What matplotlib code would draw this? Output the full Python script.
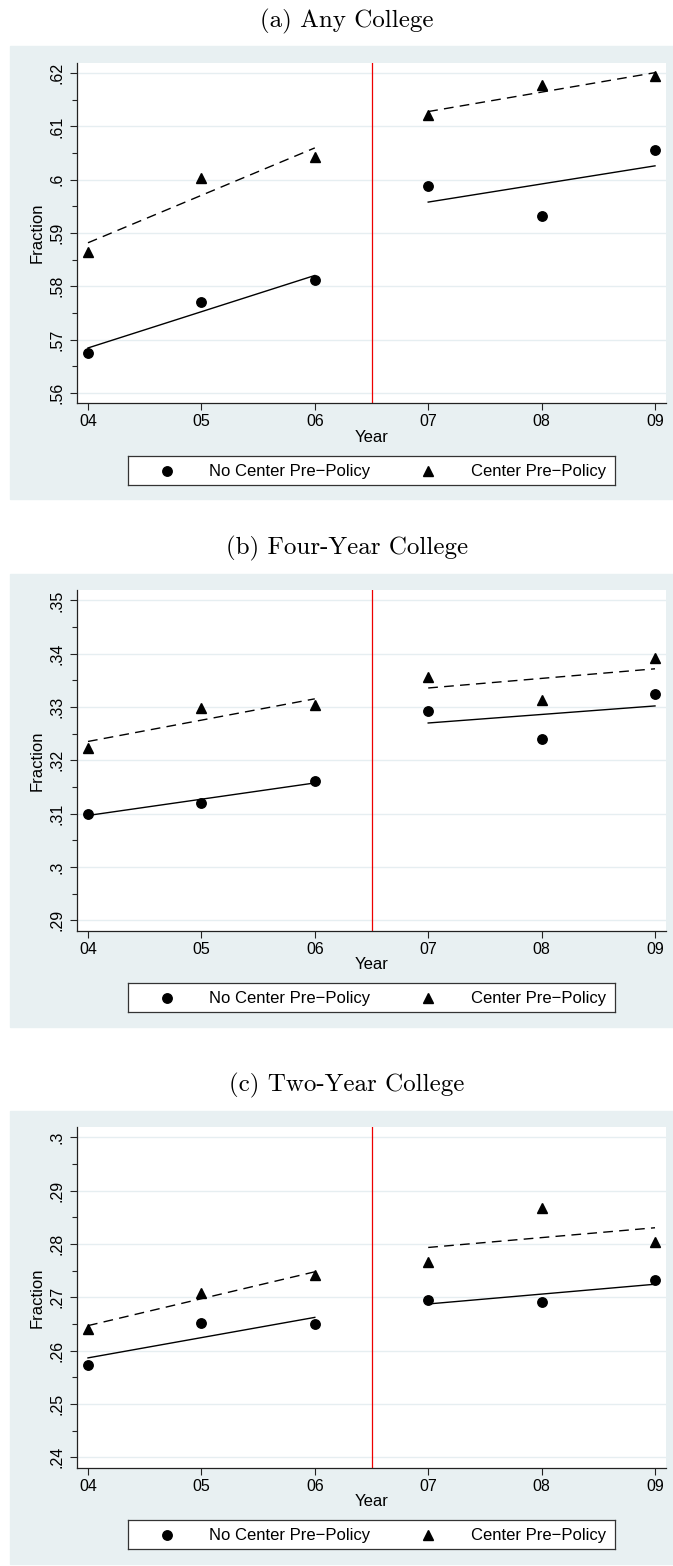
import matplotlib
matplotlib.use("Agg")
import matplotlib.pyplot as plt
from matplotlib.patches import Rectangle
import numpy as np

plt.rcParams['font.family'] = ['Liberation Sans', 'DejaVu Sans']

# survey years (x axis) and tick text
years = [4, 5, 6, 7, 8, 9]
year_labels = ["04", "05", "06", "07", "08", "09"]

# fraction enrolled, schools without / with a center before the policy
any_no_center = [0.5675, 0.5771, 0.5811, 0.5988, 0.5932, 0.6056]
any_center = [0.5865, 0.6004, 0.6043, 0.6121, 0.6178, 0.6194]
four_no_center = [0.3100, 0.3120, 0.3161, 0.3293, 0.3240, 0.3325]
four_center = [0.3224, 0.3298, 0.3304, 0.3356, 0.3313, 0.3392]
two_no_center = [0.2573, 0.2651, 0.2649, 0.2695, 0.2691, 0.2732]
two_center = [0.2641, 0.2709, 0.2742, 0.2766, 0.2867, 0.2803]

titles = ["(a) Any College", "(b) Four-Year College", "(c) Two-Year College"]

any_ticks = [0.56, 0.57, 0.58, 0.59, 0.60, 0.61, 0.62]
any_tick_labels = [".56", ".57", ".58", ".59", ".6", ".61", ".62"]
four_ticks = [0.29, 0.30, 0.31, 0.32, 0.33, 0.34, 0.35]
four_tick_labels = [".29", ".3", ".31", ".32", ".33", ".34", ".35"]
two_ticks = [0.24, 0.25, 0.26, 0.27, 0.28, 0.29, 0.30]
two_tick_labels = [".24", ".25", ".26", ".27", ".28", ".29", ".3"]

policy_year = 6.5
legend_labels = ["No Center Pre\u2212Policy", "Center Pre\u2212Policy"]

W, H = 673, 1566
BG = "#e8f0f2"
GRID = "#e6eef1"


def fig_box(x0, y0, x1, y1):
    # pixel box (top-left origin) -> figure fraction [l, b, w, h]
    return [x0 / W, 1 - y1 / H, (x1 - x0) / W, (y1 - y0) / H]


def fit_segment(x, y):
    coef = np.polyfit(x, y, 1)
    xs = np.array([x[0], x[-1]])
    return xs, np.polyval(coef, xs)


def draw_panel(fig, top, title, no_center, center, ticks, tick_labels):
    bottom = top + 340.6

    fig.add_artist(Rectangle((10 / W, 1 - (bottom + 96) / H), (W - 10) / W,
                             (bottom + 96 - (top - 16.5)) / H,
                             transform=fig.transFigure, color=BG, zorder=0))
    fig.text(347 / W, 1 - (top - 41.5) / H, title, ha="center", va="center",
             family="cmr10", fontsize=18)

    ax = fig.add_axes(fig_box(77.3, top, 666, bottom))
    ax.set_facecolor("white")

    pre = slice(0, 3)
    post = slice(3, 6)
    for ys, mk, ms, ls in [(no_center, "o", 6.8, "-"), (center, "^", 7.2, (0, (7, 4.5)))]:
        ax.plot(years, ys, mk, color="black", ms=ms, ls="none", zorder=4, clip_on=False)
        for seg in (pre, post):
            xs, fit = fit_segment(years[seg], ys[seg])
            ax.plot(xs, fit, color="black", lw=1.0, ls=ls, zorder=3)

    ax.axvline(policy_year, color="#ee0000", lw=0.9, zorder=2)

    span = ticks[-1] - ticks[0]
    margin = span * 10.4 / (340.6 - 20.8)
    ax.set_ylim(ticks[0] - margin, ticks[-1] + margin)
    ax.set_xlim(4 - 10.7 / 113.4, 9 + 11 / 113.4)

    ax.set_xticks(years, year_labels)
    ax.set_yticks(ticks, tick_labels)
    ax.set_yticks(np.array(ticks[:-1]) + span / 12, minor=True)
    ax.yaxis.grid(True, color=GRID, lw=1.0)
    ax.set_axisbelow(True)

    ax.tick_params(axis="both", which="major", length=5, width=0.8,
                   labelsize=11.5, color="#222222")
    ax.tick_params(axis="y", which="major", labelrotation=90, pad=4)
    ax.tick_params(axis="y", which="minor", length=3.5, width=0.8, color="#222222")
    ax.tick_params(axis="x", pad=3)
    for s in ("top", "right"):
        ax.spines[s].set_visible(False)
    for s in ("left", "bottom"):
        ax.spines[s].set_linewidth(0.9)
        ax.spines[s].set_color("#222222")
    for lab in ax.get_yticklabels():
        lab.set_va("center")

    ax.set_ylabel("Fraction", fontsize=12, va="center")
    ax.yaxis.set_label_coords(-0.0685, 0.5)
    ax.set_xlabel("Year", fontsize=12, va="center")
    ax.xaxis.set_label_coords(0.5, -0.099)

    # legend box below the axis
    lt = bottom + 52.7
    lax = fig.add_axes(fig_box(128, lt, 615, lt + 29))
    lax.set_xlim(128, 615)
    lax.set_ylim(0, 1)
    lax.set_xticks([])
    lax.set_yticks([])
    for sp in lax.spines.values():
        sp.set_linewidth(0.9)
        sp.set_color("#333333")
    lax.plot([167], [0.5], "o", color="black", ms=6.8)
    lax.plot([428], [0.5], "^", color="black", ms=7.2)
    lax.text(209, 0.48, legend_labels[0], va="center", fontsize=12)
    lax.text(471, 0.48, legend_labels[1], va="center", fontsize=12)


fig = plt.figure(figsize=(W / 100, H / 100), dpi=100)
fig.patch.set_facecolor("white")

draw_panel(fig, 62.7, titles[0], any_no_center, any_center, any_ticks, any_tick_labels)
draw_panel(fig, 590, titles[1], four_no_center, four_center, four_ticks, four_tick_labels)
draw_panel(fig, 1127, titles[2], two_no_center, two_center, two_ticks, two_tick_labels)

fig.savefig("out.png", dpi=100)
